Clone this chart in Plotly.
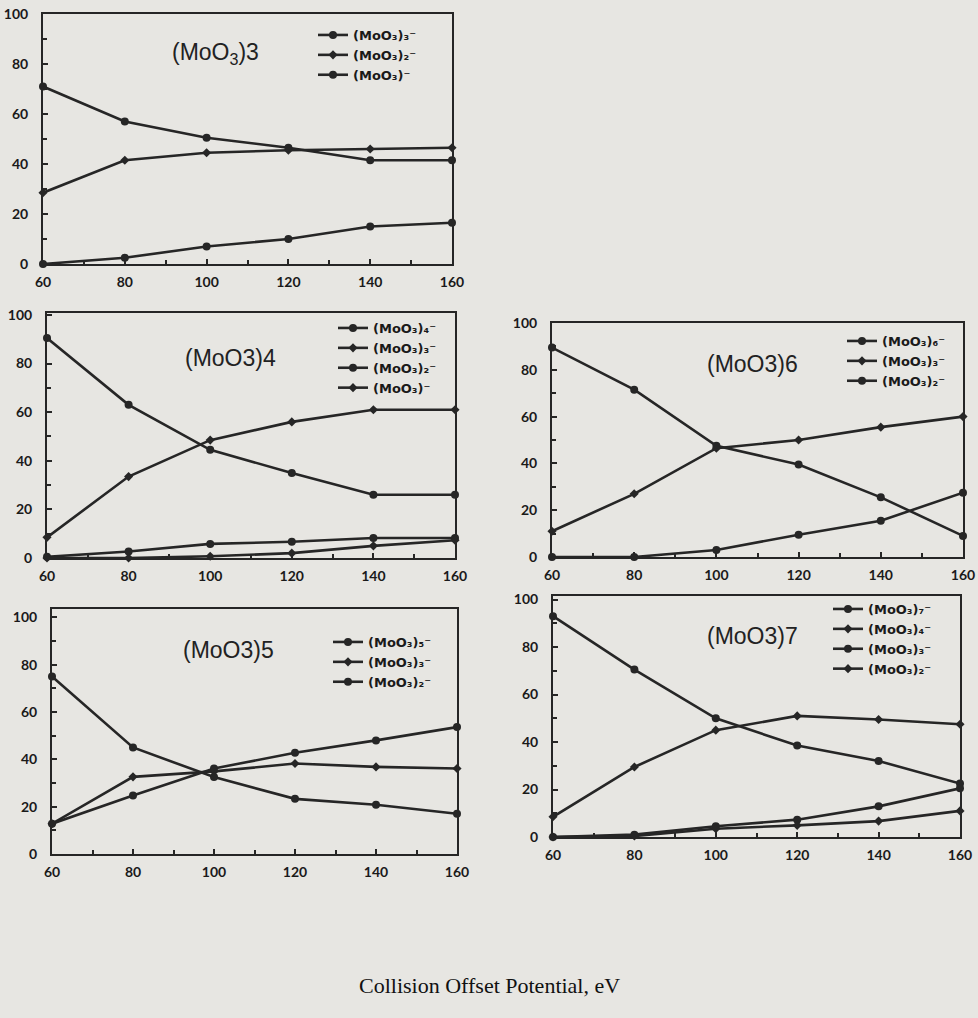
import plotly.graph_objects as go

# ---------------- data ----------------
collision_offset = [60, 80, 100, 120, 140, 160]

# (MoO3)3 precursor
m3_trimer = [71, 57, 50.5, 46.5, 41.5, 41.5]
m3_dimer = [28.5, 41.5, 44.5, 45.5, 46, 46.5]
m3_monomer = [0, 2.5, 7, 10, 15, 16.5]

# (MoO3)4 precursor
m4_tetramer = [90.5, 63, 44.5, 35, 26, 26]
m4_trimer = [8.5, 33.5, 48.5, 56, 61, 61]
m4_dimer = [0.5, 2.7, 5.8, 6.7, 8.2, 8.2]
m4_monomer = [0, 0, 0.7, 2, 5, 7.3]

# (MoO3)6 precursor
m6_hexamer = [89.5, 71.5, 47.5, 39.5, 25.5, 9]
m6_trimer = [11, 27, 46.5, 50, 55.5, 60]
m6_dimer = [0, 0, 3, 9.5, 15.5, 27.5]

# (MoO3)5 precursor
m5_pentamer = [75, 45, 32.5, 23.3, 20.8, 17]
m5_trimer = [12.8, 32.6, 34.9, 38.2, 36.8, 36.1]
m5_dimer = [12.8, 24.7, 36.1, 42.8, 48, 53.6]

# (MoO3)7 precursor
m7_heptamer = [93, 70.5, 50, 38.5, 32, 22.5]
m7_tetramer = [8.5, 29.5, 45, 51, 49.5, 47.5]
m7_trimer = [0, 1, 4.5, 7.3, 12.9, 20.5]
m7_dimer = [0, 0.4, 3.5, 4.9, 6.7, 11]

panel_titles = ["(MoO<sub>3</sub>)3", "(MoO3)4", "(MoO3)6", "(MoO3)5", "(MoO3)7"]
x_title = "Collision Offset Potential, eV"

SUBS = {1: "", 2: "\u2082", 3: "\u2083", 4: "\u2084", 5: "\u2085", 6: "\u2086", 7: "\u2087"}

def ion(n):
    return "(MoO\u2083)" + SUBS[n] + "\u207b"

panel_series = [
    [(ion(3), m3_trimer), (ion(2), m3_dimer), (ion(1), m3_monomer)],
    [(ion(4), m4_tetramer), (ion(3), m4_trimer), (ion(2), m4_dimer), (ion(1), m4_monomer)],
    [(ion(6), m6_hexamer), (ion(3), m6_trimer), (ion(2), m6_dimer)],
    [(ion(5), m5_pentamer), (ion(3), m5_trimer), (ion(2), m5_dimer)],
    [(ion(7), m7_heptamer), (ion(4), m7_tetramer), (ion(3), m7_trimer), (ion(2), m7_dimer)],
]

# ---------------- layout helpers ----------------
W, H = 978, 1018
BG = "#e7e6e2"
INK = "#262626"

def fx(p):
    return p / W

def fy(p):
    return 1 - p / H

# pixel boxes: (left, right, top, bottom), y range top, legend (left x, top y), title (cx, cy)
panels = [
    dict(box=(43, 452, 14, 264), ytop=100, leg=(313, 20), title=(215, 53)),
    dict(box=(47, 455, 313, 558), ytop=100.8, leg=(333, 313), title=(230, 358)),
    dict(box=(552, 963, 323, 557), ytop=100, leg=(842, 326), title=(752, 364)),
    dict(box=(52, 457, 609, 854), ytop=103.5, leg=(328, 627), title=(228, 650)),
    dict(box=(553, 960, 596, 837), ytop=101.5, leg=(828, 594), title=(752, 636)),
]

symbols = ["circle", "diamond", "circle", "diamond"]
sizes = [8, 7, 8, 7]

fig = go.Figure()
layout = dict(
    width=W, height=H, autosize=False,
    margin=dict(l=0, r=0, t=0, b=0, autoexpand=False),
    paper_bgcolor=BG, plot_bgcolor=BG,
    showlegend=True,
    annotations=[],
)

TICKFONT = dict(family="Lato", size=14, color="#1a1a1a", weight="bold")

for i, (pan, series) in enumerate(zip(panels, panel_series)):
    k = "" if i == 0 else str(i + 1)
    xa, ya, lg = "x" + k, "y" + k, "legend" + k
    for j, (name, vals) in enumerate(series):
        fig.add_trace(go.Scatter(
            x=collision_offset, y=vals, name=name,
            mode="lines+markers", xaxis=xa, yaxis=ya, legend=lg,
            line=dict(color=INK, width=2.6),
            marker=dict(symbol=symbols[j], size=sizes[j], color=INK),
            cliponaxis=False,
        ))
    l, r, t, b = pan["box"]
    axis_common = dict(
        showline=True, linecolor=INK, linewidth=2, mirror=True,
        showgrid=False, zeroline=False, automargin=False,
        ticks="inside", ticklen=5, tickwidth=1.5, tickcolor=INK,
        tickfont=TICKFONT,
    )
    layout["xaxis" + k] = dict(
        axis_common, domain=[fx(l), fx(r)], range=[60, 160],
        tickvals=[60, 80, 100, 120, 140, 160],
        minor=dict(dtick=10, ticks="inside", ticklen=4, tickcolor=INK),
        anchor=ya, ticklabelstandoff=4,
    )
    layout["yaxis" + k] = dict(
        axis_common, domain=[fy(b), fy(t)], range=[0, pan["ytop"]],
        tickvals=[0, 20, 40, 60, 80, 100],
        minor=dict(dtick=10, ticks="inside", ticklen=4, tickcolor=INK),
        anchor=xa, ticklabelstandoff=10,
    )
    lx, ly = pan["leg"]
    layout[lg] = dict(
        x=fx(lx), y=fy(ly), xanchor="left", yanchor="top",
        bgcolor="rgba(0,0,0,0)", borderwidth=0,
        font=dict(family="DejaVu Sans", size=13, color="#1a1a1a", weight="bold"),
        itemwidth=30, tracegroupgap=0,
    )
    cx, cy = pan["title"]
    layout["annotations"].append(dict(
        text=panel_titles[i], x=fx(cx), y=fy(cy), xref="paper", yref="paper",
        showarrow=False, xanchor="center", yanchor="middle",
        font=dict(family="Liberation Sans", size=23, color="#222"),
    ))

layout["annotations"].append(dict(
    text=x_title, x=fx(489), y=fy(985), xref="paper", yref="paper",
    showarrow=False, xanchor="center", yanchor="middle",
    font=dict(family="Liberation Serif", size=22, color="#111"),
))

fig.update_layout(**layout)
fig.write_html(
    "out.html",
    config=dict(displayModeBar=False, responsive=False),
    post_script="document.body.style.margin='0';document.body.style.padding='0';"
                "document.body.style.overflow='hidden';",
)
